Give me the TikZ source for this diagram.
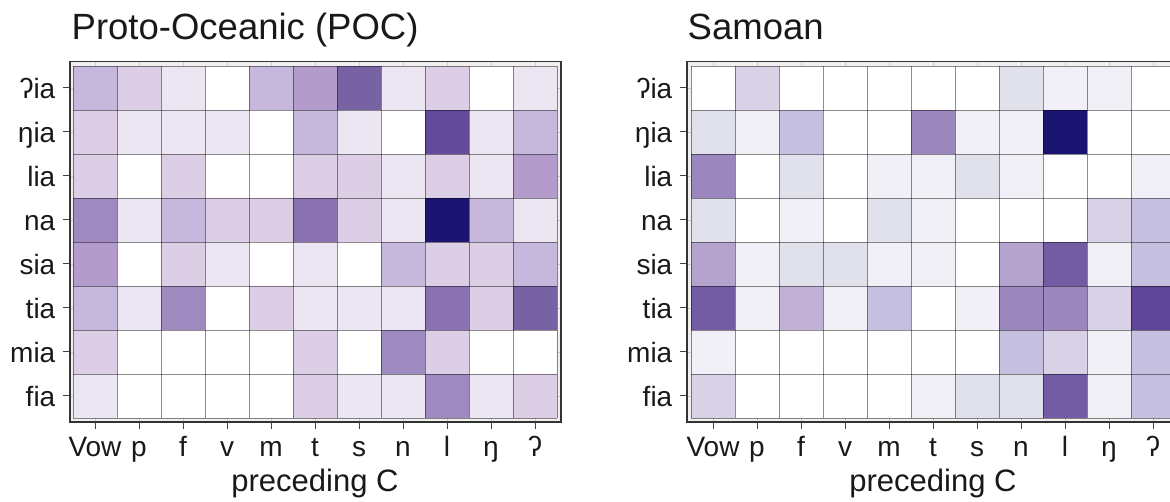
\documentclass[tikz,border=0pt]{standalone}
\usepackage{fontspec}
\setmainfont{Liberation Sans}
\definecolor{P0}{HTML}{FFFFFF}
\definecolor{PA}{HTML}{EBE6F2}
\definecolor{PB}{HTML}{DBCEE5}
\definecolor{PC}{HTML}{C6B8DC}
\definecolor{PD}{HTML}{B39CCB}
\definecolor{PE}{HTML}{9E8ABF}
\definecolor{PF}{HTML}{8A72B1}
\definecolor{PG}{HTML}{7762A4}
\definecolor{PH}{HTML}{634B9A}
\definecolor{PN}{HTML}{1B1571}
\definecolor{QA}{HTML}{F0F0F6}
\definecolor{QB}{HTML}{E1E1EB}
\definecolor{QC}{HTML}{D9D1E5}
\definecolor{QD}{HTML}{C6C0E0}
\definecolor{QE}{HTML}{C1B1D7}
\definecolor{QF}{HTML}{B3A3CD}
\definecolor{QG}{HTML}{9B86BE}
\definecolor{QH}{HTML}{735CA4}
\definecolor{QI}{HTML}{5E4597}
\definecolor{marg}{HTML}{F0F0F0}
\definecolor{gridc}{HTML}{CCCCCC}
\tikzset{
  cellline/.style={draw=black, draw opacity=0.45, line width=0.9pt},
  frameline/.style={draw=black!80, line width=1.6pt},
  tickline/.style={draw=black!75, line width=1pt},
  gridline/.style={draw=gridc, line width=0.7pt},
  ylab/.style={anchor=base east, inner sep=0pt, text=black!90, font=\fontsize{28}{32}\selectfont},
  xlab/.style={anchor=base, inner sep=0pt, text=black!90, font=\fontsize{28}{32}\selectfont},
  axtitle/.style={anchor=base, inner sep=0pt, text=black!90, font=\fontsize{31}{35}\selectfont},
  ptitle/.style={anchor=base west, inner sep=0pt, text=black!90, font=\fontsize{36.5}{40}\selectfont},
}
% #1 = x0 of cells, #2 = row index, #3 = colour list
\newcommand\hmrow[3]{%
  \foreach \cc [count=\ii from 0] in {#3} {
    \fill[fill=\cc] ({#1+44*\ii},{66+44*#2}) rectangle ++(44,44);
  }%
}
% #1 = frame left, #2 = cells x0
\newcommand\hmpanel[2]{%
  \fill[marg] (#1,61.7) rectangle ({#1+490.7},421.7);
  \foreach \ii in {0,...,10} {
    \draw[gridline] ({#2+22+44*\ii},61.7) -- ({#2+22+44*\ii},421.7);
  }
  \foreach \jj in {0,...,7} {
    \draw[gridline] (#1,{88+44*\jj}) -- ({#1+490.7},{88+44*\jj});
  }
}
\newcommand\hmgrid[1]{%
  \foreach \ii in {0,...,11} {
    \draw[cellline] ({#1+44*\ii},66) -- ({#1+44*\ii},418);
  }
  \foreach \jj in {0,...,8} {
    \draw[cellline] (#1,{66+44*\jj}) -- ({#1+484},{66+44*\jj});
  }
}
\begin{document}
\begin{tikzpicture}[x=1pt,y=-1pt]
\useasboundingbox (0,0) rectangle (1170,502);
\begin{scope}
\clip (0,0) rectangle (1170,502);
% ---------------- left panel: Proto-Oceanic ----------------
\hmpanel{70}{73}
\hmrow{73}{0}{PC,PB,PA,P0,PC,PD,PG,PA,PB,P0,PA}
\hmrow{73}{1}{PB,PA,PA,PA,P0,PC,PA,P0,PH,PA,PC}
\hmrow{73}{2}{PB,P0,PB,P0,P0,PB,PB,PA,PB,PA,PD}
\hmrow{73}{3}{PE,PA,PC,PB,PB,PF,PB,PA,PN,PC,PA}
\hmrow{73}{4}{PD,P0,PB,PA,P0,PA,P0,PC,PB,PB,PC}
\hmrow{73}{5}{PC,PA,PE,P0,PB,PA,PA,PA,PF,PB,PG}
\hmrow{73}{6}{PB,P0,P0,P0,P0,PB,P0,PE,PB,P0,P0}
\hmrow{73}{7}{PA,P0,P0,P0,P0,PB,PA,PA,PE,PA,PB}
\hmgrid{73}
\draw[frameline] (70,61.7) rectangle (560.7,421.7);
% ---------------- right panel: Samoan ----------------
\hmpanel{686.7}{691}
\hmrow{691}{0}{P0,QC,P0,P0,P0,P0,P0,QB,QA,QA,P0}
\hmrow{691}{1}{QB,QA,QD,P0,P0,QG,QA,QA,PN,P0,P0}
\hmrow{691}{2}{QG,P0,QB,P0,QA,QA,QB,QA,P0,P0,QA}
\hmrow{691}{3}{QB,P0,QA,P0,QB,QA,P0,P0,P0,QC,QD}
\hmrow{691}{4}{QF,QA,QB,QB,QA,QA,P0,QF,QH,QA,QD}
\hmrow{691}{5}{QH,QA,QE,QA,QD,P0,QA,QG,QG,QC,QI}
\hmrow{691}{6}{QA,P0,P0,P0,P0,P0,P0,QD,QC,QA,QD}
\hmrow{691}{7}{QC,P0,P0,P0,P0,QA,QB,QB,QH,QA,QD}
\hmgrid{691}
\draw[frameline] (686.7,61.7) rectangle (1177.4,421.7);
% ---------------- ticks ----------------
\foreach \jj in {0,...,7} {
  \draw[tickline] (63,{88+44*\jj}) -- (70,{88+44*\jj});
  \draw[tickline] (679.7,{88+44*\jj}) -- (686.7,{88+44*\jj});
}
\foreach \ii in {0,...,10} {
  \draw[tickline] ({95+44*\ii},421.7) -- ({95+44*\ii},429);
  \draw[tickline] ({713+44*\ii},421.7) -- ({713+44*\ii},429);
}
% ---------------- titles ----------------
\node[ptitle] (tl) at (71.5,39.3) {Proto-Oceanic (POC)};
\node[ptitle] (tr) at (687.5,39.3) {Samoan};
% ---------------- y labels ----------------
\foreach \lab [count=\jj from 0] in {ʔia,ŋia,lia,na,sia,tia,mia,fia} {
  \node[ylab] (yl\jj) at (55.5,{98.8+44*\jj}) {\lab};
  \node[ylab] (yr\jj) at (672.5,{98.8+44*\jj}) {\lab};
}
% ---------------- x labels ----------------
\foreach \lab [count=\ii from 0] in {Vow,p,f,v,m,t,s,n,l,ŋ,ʔ} {
  \node[xlab] (xl\ii) at ({95+44*\ii},456.5) {\lab};
  \node[xlab] (xr\ii) at ({713+44*\ii},456.5) {\lab};
}
% ---------------- axis titles ----------------
\node[axtitle] (al) at (315,491.7) {preceding C};
\node[axtitle] (ar) at (933,491.7) {preceding C};
\end{scope}
\end{tikzpicture}
\end{document}
